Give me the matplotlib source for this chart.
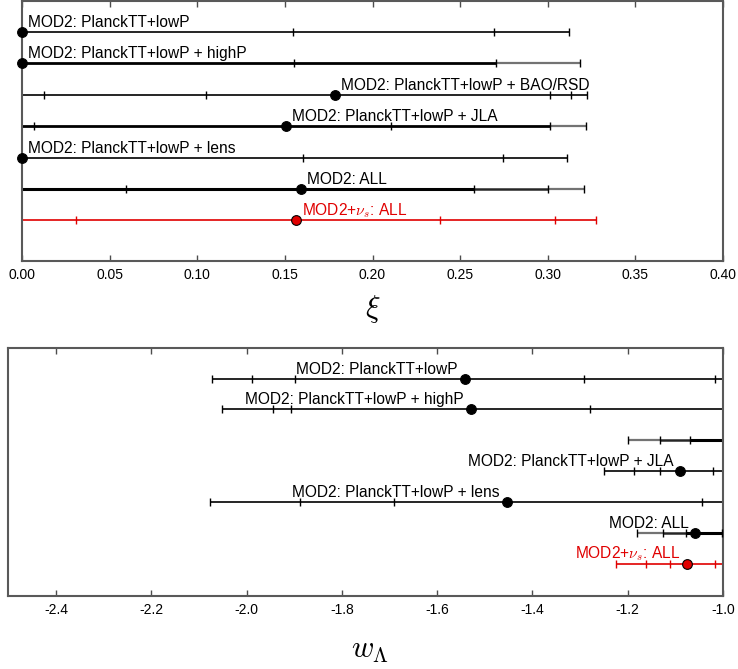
import matplotlib
matplotlib.use("Agg")
import matplotlib.pyplot as plt

plt.rcParams['font.family'] = ['Liberation Sans', 'DejaVu Sans']
plt.rcParams['mathtext.fontset'] = 'cm'
plt.rcParams['axes.unicode_minus'] = False

# data
labels = ['MOD2: PlanckTT+lowP', 'MOD2: PlanckTT+lowP + highP',
          'MOD2: PlanckTT+lowP + BAO/RSD', 'MOD2: PlanckTT+lowP + JLA',
          'MOD2: PlanckTT+lowP + lens', 'MOD2: ALL', r'MOD2+$\nu_s$: ALL']

xi_best = [0.0, 0.0, 0.1786, 0.1506, 0.0, 0.159, 0.1562]
xi_ticks = [[0.1545, 0.2695, 0.3123],
            [0.1552, 0.2707, 0.3186],
            [0.0124, 0.1052, 0.3015, 0.3134, 0.3226],
            [0.0067, 0.2106, 0.3013, 0.322],
            [0.1602, 0.2747, 0.3112],
            [0.0593, 0.2581, 0.300, 0.3209],
            [0.0308, 0.2385, 0.3043, 0.3277]]

w_best = [-1.542, -1.530, None, -1.090, -1.454, -1.058, -1.076]
w_ticks = [[-2.072, -1.989, -1.898, -1.291, -1.017],
           [-2.052, -1.945, -1.906, -1.279],
           [-1.199, -1.1315, -1.070],
           [-1.249, -1.187, -1.1315, -1.021],
           [-2.077, -1.889, -1.691, -1.044],
           [-1.181, -1.1265, -1.078, -1.0027],
           [-1.2245, -1.1615, -1.111, -1.017]]
w_show_label = [True, True, False, True, True, True, True]

xi_xticks = [0.0, 0.05, 0.10, 0.15, 0.20, 0.25, 0.30, 0.35, 0.40]
w_xticks = [-2.4, -2.2, -2.0, -1.8, -1.6, -1.4, -1.2, -1.0]

RED = '#e00000'
# segment styles: (tick index where segment ends, None = end of line), colour, width
thin = [(None, 'black', 1.2)]
xi_styles = [thin,
             [(1, 'black', 2.0), (None, '0.45', 1.6)],
             thin,
             [(2, 'black', 2.0), (None, '0.45', 1.6)],
             thin,
             [(1, 'black', 2.2), (2, '0.15', 1.8), (None, '0.45', 1.6)],
             [(None, RED, 1.2)]]
w_styles = [thin, thin,
            [(0, '0.45', 1.6), (1, '0.15', 1.8), (None, 'black', 2.2)],
            thin, thin,
            [(0, '0.45', 1.6), (1, '0.15', 1.8), (None, 'black', 2.2)],
            [(None, RED, 1.2)]]
# for the w panel segments start at first tick; index k means "up to tick k+1"

fig = plt.figure(figsize=(7.38, 6.69), dpi=100)
ax1 = fig.add_axes([0.0298, 0.6099, 0.9499, 0.3886])
ax2 = fig.add_axes([0.0115, 0.1090, 0.9682, 0.3704])

ypos = [7, 6, 5, 4, 3, 2, 1]


def draw_row(ax, y, start, stop, ticks, segs, colour, best, label, side):
    x0 = start
    for end_idx, c, lw in segs:
        x1 = stop if end_idx is None else ticks[end_idx]
        ax.plot([x0, x1], [y, y], color=c, lw=lw, solid_capstyle='butt', zorder=2)
        x0 = x1
    ax.plot(ticks, [y] * len(ticks), ls='none', marker='|', ms=6, mew=1.0,
            color=colour, zorder=3)
    if best is not None:
        ax.plot([best], [y], marker='o', ms=7, color=colour, mec='black',
                mew=0.8, ls='none', zorder=4, clip_on=False)
        if label is not None:
            dx = 6 if side == 'left' else -7
            ax.annotate(label, (best, y), xytext=(dx, 5), textcoords='offset pixels',
                        ha=side, va='baseline', fontsize=11.2, color=colour)


for i in range(7):
    col = RED if i == 6 else 'black'
    draw_row(ax1, ypos[i], 0.0, xi_ticks[i][-1], xi_ticks[i], xi_styles[i], col,
             xi_best[i], labels[i], 'left')

ax1.set_xlim(0, 0.40)
ax2.set_xlim(-2.5, -1.0)
for i in range(7):
    col = RED if i == 6 else 'black'
    t = w_ticks[i]
    segs = []
    for end_idx, c, lw in w_styles[i]:
        segs.append((None if end_idx is None else end_idx + 1, c, lw))
    draw_row(ax2, ypos[i], t[0], ax2.get_xlim()[1], t, segs, col,
             w_best[i], labels[i] if w_show_label[i] else None, 'right')

ax1.set_ylim(-0.29, 7.98)
ax2.set_ylim(-0.05, 7.98)

ax1.set_xticks(xi_xticks)
ax1.set_xticklabels(['%.2f' % v for v in xi_xticks])
ax2.set_xticks(w_xticks)
ax2.set_xticklabels(['%.1f' % v for v in w_xticks])

for ax in (ax1, ax2):
    ax.set_yticks([])
    ax.tick_params(axis='x', direction='in', top=True, length=4, width=1,
                   color='0.3', labelsize=10, pad=5)
    for s in ax.spines.values():
        s.set_color('0.35')
        s.set_linewidth(1.5)

fig.text(0.505, 1 - 309 / 669, r'$\xi$', fontsize=22, ha='center', va='center')
fig.text(0.502, 1 - 650 / 669, r'$w_\Lambda$', fontsize=22, ha='center', va='center')

fig.savefig('out.png', dpi=100)
